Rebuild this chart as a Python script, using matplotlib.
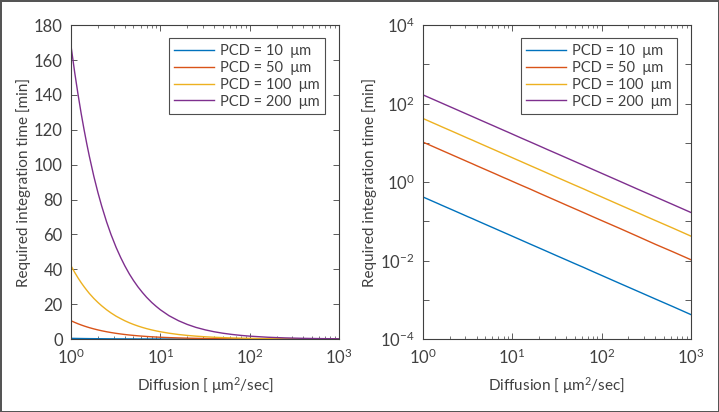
import math
import matplotlib
matplotlib.use("Agg")
import matplotlib.pyplot as plt
from matplotlib.ticker import LogLocator, NullFormatter, MultipleLocator, FuncFormatter

plt.rcParams['font.family'] = ['Lato', 'DejaVu Sans']
plt.rcParams['mathtext.fontset'] = 'custom'
plt.rcParams['mathtext.rm'] = 'Lato'
plt.rcParams['mathtext.it'] = 'Lato:italic'

# Diffusion coefficient [um^2/sec]
diffusion = [1, 1.1, 1.2, 1.3, 1.4, 1.5, 1.6, 1.8, 2, 2.2, 2.5, 2.8, 3.2, 3.6, 4,
             4.5, 5, 5.6, 6.3, 7, 8, 9, 10,
             12.5, 16, 20, 25, 32, 40, 50, 63, 80, 100, 160, 250, 400, 630, 1000]

# required integration time [min]
t_pcd10 = [0.42, 0.382, 0.35, 0.323, 0.30, 0.28, 0.262, 0.233, 0.21, 0.191, 0.168,
           0.15, 0.131, 0.117, 0.105, 0.0933, 0.084, 0.075, 0.0667, 0.06, 0.0525,
           0.0467, 0.042,
           0.0336, 0.0262, 0.021, 0.0168, 0.0131, 0.0105, 0.0084, 0.0067, 0.00525,
           0.0042, 0.00262, 0.00168, 0.00105, 0.00067, 0.00042]
t_pcd50 = [10.5, 9.55, 8.75, 8.08, 7.5, 7.0, 6.56, 5.83, 5.25, 4.77, 4.2, 3.75,
           3.28, 2.92, 2.62, 2.33, 2.1, 1.875, 1.67, 1.5, 1.31, 1.17, 1.05,
           0.84, 0.66, 0.525, 0.42, 0.328, 0.262, 0.21, 0.167, 0.131, 0.105,
           0.066, 0.042, 0.026, 0.0167, 0.0105]
t_pcd100 = [42, 38.2, 35, 32.3, 30, 28, 26.2, 23.3, 21, 19.1, 16.8, 15, 13.1,
            11.7, 10.5, 9.33, 8.4, 7.5, 6.67, 6, 5.25, 4.67, 4.2,
            3.36, 2.62, 2.1, 1.68, 1.31, 1.05, 0.84, 0.67, 0.525, 0.42, 0.262,
            0.168, 0.105, 0.067, 0.042]
t_pcd200 = [168, 152.7, 140, 129.2, 120, 112, 105, 93.3, 84, 76.4, 67.2, 60,
            52.5, 46.7, 42, 37.3, 33.6, 30, 26.7, 24, 21, 18.7, 16.8,
            13.4, 10.5, 8.4, 6.7, 5.25, 4.2, 3.36, 2.67, 2.1, 1.68, 1.05, 0.67,
            0.42, 0.267, 0.168]

series = [t_pcd10, t_pcd50, t_pcd100, t_pcd200]
labels = ["PCD = 10  \u03bcm", "PCD = 50  \u03bcm",
          "PCD = 100  \u03bcm", "PCD = 200  \u03bcm"]
colors = ["#0072BD", "#D95319", "#EDB120", "#7E2F8E"]

txt = "#404040"
fig = plt.figure(figsize=(7.19, 4.12), dpi=100)
fig.patch.set_edgecolor("#555555")
fig.patch.set_linewidth(2)

ax1 = fig.add_axes([0.0988, 0.177, 0.3727, 0.762])
ax2 = fig.add_axes([0.588, 0.177, 0.373, 0.762])

for ax in (ax1, ax2):
    for s, lab, c in zip(series, labels, colors):
        ax.plot(diffusion, s, color=c, lw=1.0, label=lab)
    ax.set_xscale("log")
    ax.set_xlim(1, 1000)
    ax.xaxis.set_major_locator(LogLocator(base=10, numticks=10))
    ax.xaxis.set_minor_locator(LogLocator(base=10, subs=range(2, 10), numticks=10))
    ax.xaxis.set_minor_formatter(NullFormatter())
    ax.tick_params(which="both", direction="in", top=True, right=True,
                   colors=txt, labelsize=12, labelcolor=txt)
    ax.tick_params(which="major", length=4, width=0.6, pad=6)
    ax.tick_params(which="minor", length=2, width=0.5)
    for sp in ax.spines.values():
        sp.set_color(txt)
        sp.set_linewidth(0.8)
    ax.set_xlabel("Diffusion [ \u03bcm$^2$/sec]", fontsize=11, color=txt, labelpad=6)
    ax.set_ylabel("Required integration time [min]", fontsize=11, color=txt, labelpad=2)
    leg = ax.legend(loc="upper right", fontsize=10.5, frameon=True, fancybox=False,
                    handlelength=2.7, borderpad=0.4, labelspacing=0.2,
                    handletextpad=0.4, borderaxespad=0,
                    bbox_to_anchor=(0.948, 0.959))
    leg.get_frame().set_edgecolor("#222222")
    leg.get_frame().set_linewidth(0.8)
    for t in leg.get_texts():
        t.set_color(txt)

ax1.set_ylim(0, 180)
ax1.yaxis.set_major_locator(MultipleLocator(20))


def even_pow(v, pos):
    e = round(math.log10(v))
    return "$10^{%d}$" % e if e % 2 == 0 else ""


ax2.set_yscale("log")
ax2.set_ylim(1e-4, 1e4)
ax2.yaxis.set_major_locator(LogLocator(base=10, numticks=10))
ax2.yaxis.set_major_formatter(FuncFormatter(even_pow))
ax2.yaxis.set_minor_locator(LogLocator(base=10, subs=[], numticks=10))
ax2.tick_params(axis="y", which="minor", length=0)

fig.savefig("out.png", dpi=100, edgecolor=fig.get_edgecolor())
